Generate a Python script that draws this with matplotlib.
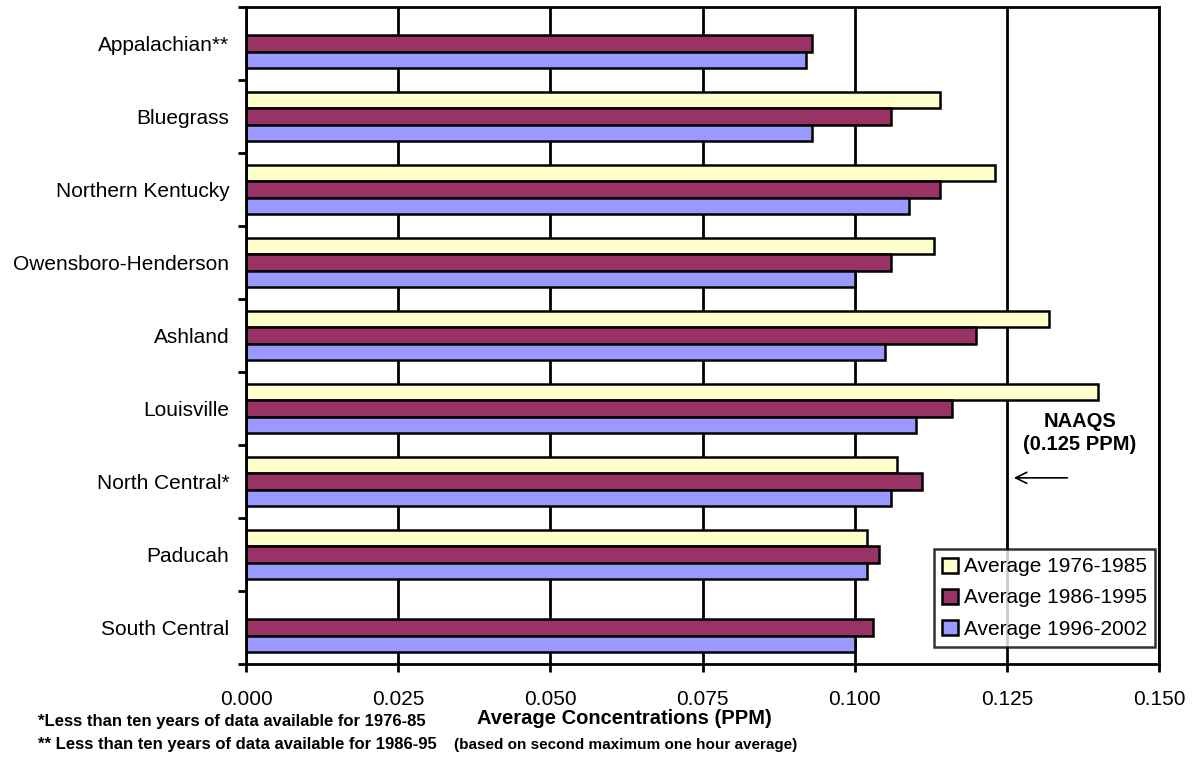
import numpy as np
import matplotlib.pyplot as plt
from matplotlib.patches import Patch

regions = ['Appalachian**', 'Bluegrass', 'Northern Kentucky', 'Owensboro-Henderson',
           'Ashland', 'Louisville', 'North Central*', 'Paducah', 'South Central']
avg_1976_1985 = [np.nan, 0.114, 0.123, 0.113, 0.132, 0.140, 0.107, 0.102, np.nan]
avg_1986_1995 = [0.093, 0.106, 0.114, 0.106, 0.120, 0.116, 0.111, 0.104, 0.103]
avg_1996_2002 = [0.092, 0.093, 0.109, 0.100, 0.105, 0.110, 0.106, 0.102, 0.100]
series_labels = ['Average 1976-1985', 'Average 1986-1995', 'Average 1996-2002']
series_colors = ['#FFFFCC', '#993366', '#9999FF']
x_ticks = [0.0, 0.025, 0.05, 0.075, 0.1, 0.125, 0.15]


def main():
    plt.rcParams['font.family'] = ['Liberation Sans', 'DejaVu Sans']
    fig = plt.figure(figsize=(11.92, 7.67), dpi=100)
    ax = fig.add_axes([0.2064, 0.1343, 0.7659, 0.8566])

    y = np.arange(len(regions))
    h = 0.228
    series = [avg_1976_1985, avg_1986_1995, avg_1996_2002]
    for k, (vals, col) in enumerate(zip(series, series_colors)):
        ax.barh(y + (k - 1) * h, vals, height=h, color=col,
                edgecolor='black', linewidth=1.8, zorder=3)

    ax.set_xlim(0, 0.15)
    ax.set_ylim(len(regions) - 0.5, -0.5)
    ax.set_xticks(x_ticks)
    ax.set_xticklabels([f'{t:.3f}' for t in x_ticks], fontsize=15)
    ax.set_yticks(y)
    ax.set_yticklabels(regions, fontsize=15)
    ax.set_yticks(np.arange(len(regions) + 1) - 0.5, minor=True)
    ax.tick_params(axis='y', which='major', length=0, pad=12)
    ax.tick_params(axis='y', which='minor', length=6, width=2, direction='out')
    ax.tick_params(axis='x', length=6, width=2, direction='out', pad=13)
    ax.grid(axis='x', color='black', linewidth=2, zorder=1)
    ax.set_axisbelow(True)
    for s in ax.spines.values():
        s.set_linewidth(2)
        s.set_zorder(4)

    ax.text(0.137, 5.34, 'NAAQS\n(0.125 PPM)', ha='center', va='center',
            fontsize=14.5, fontweight='bold', linespacing=1.25)
    ax.annotate('', xy=(0.1257, 5.95), xytext=(0.1354, 5.95),
                arrowprops=dict(arrowstyle='->', color='black', lw=1.2,
                                mutation_scale=20))

    handles = [Patch(facecolor=c, edgecolor='black', linewidth=1.8)
               for c in series_colors]
    leg = ax.legend(handles, series_labels, loc='lower right',
                    bbox_to_anchor=(0.996, 0.026), fontsize=15,
                    frameon=True, fancybox=False, handlelength=0.75,
                    handleheight=0.75, handletextpad=0.3, borderpad=0.4,
                    labelspacing=0.58, borderaxespad=0)
    leg.get_frame().set_edgecolor('black')
    leg.get_frame().set_linewidth(1.8)
    leg.set_zorder(5)

    fig.text(0.5235, 0.063, 'Average Concentrations (PPM)', ha='center',
             va='center', fontsize=14.5, fontweight='bold')
    fig.text(0.5245, 0.029, '(based on second maximum one hour average)',
             ha='center', va='center', fontsize=11, fontweight='bold')
    fig.text(0.032, 0.059, '*Less than ten years of data available for 1976-85',
             ha='left', va='center', fontsize=12, fontweight='bold')
    fig.text(0.032, 0.029, '** Less than ten years of data available for 1986-95',
             ha='left', va='center', fontsize=12, fontweight='bold')

    fig.savefig('out.png', dpi=100)


if __name__ == '__main__':
    main()
